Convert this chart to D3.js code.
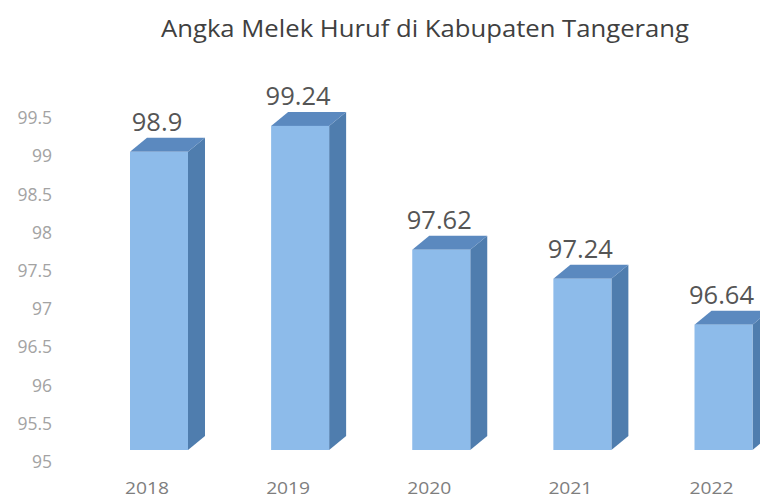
<!DOCTYPE html>
<html><head><meta charset="utf-8">
<script src="https://cdn.jsdelivr.net/npm/d3@7"></script>
<style>body{margin:0;background:#fff}svg{display:block}</style>
</head><body>
<svg id="c" width="760" height="501"></svg>
<script>
const years = ["2018","2019","2020","2021","2022"];
const values = [98.9, 99.24, 97.62, 97.24, 96.64];
const yTicks = [95, 95.5, 96, 96.5, 97, 97.5, 98, 98.5, 99, 99.5];
const title = "Angka Melek Huruf di Kabupaten Tangerang";

const svg = d3.select("#c");
const FF = "Open Sans, sans-serif";
const x = d3.scalePoint().domain(years).range([159, 723.5]);
const y = d3.scaleLinear().domain([95, 99.5]).range([450, 106]);
const yAx = d3.scaleLinear().domain([95, 99.5]).range([462, 118]);
const bw = 58, dx = 17, dy = 14;

svg.append("text").attr("x", 425).attr("y", 37).attr("text-anchor", "middle")
  .attr("font-family", FF).attr("font-size", 23.5).attr("fill", "#404040")
  .attr("textLength", 528).attr("lengthAdjust", "spacingAndGlyphs")
  .text(title);

const ax = svg.append("g").attr("transform", "translate(58,0)")
  .call(d3.axisLeft(yAx).tickValues(yTicks).tickSize(0).tickPadding(6).tickFormat(d => String(d)));
ax.select(".domain").remove();
ax.attr("font-family", FF).attr("font-size", 17.5);
ax.selectAll("text").attr("font-family", FF).attr("font-size", 17.5).attr("fill", "#a3a3a3");

svg.append("g").selectAll("text").data(years).join("text")
  .attr("x", d => x(d) - 12).attr("y", 494).attr("text-anchor", "middle")
  .attr("font-family", FF).attr("font-size", 17).attr("fill", "#7e7e7e")
  .attr("textLength", 44).attr("lengthAdjust", "spacingAndGlyphs")
  .text(d => d);

const data = years.map((k, i) => ({k, v: values[i]}));
const g = svg.append("g").selectAll("g").data(data).join("g");
g.each(function(d) {
  const s = d3.select(this);
  const xl = x(d.k) - bw / 2, xr = x(d.k) + bw / 2, yt = y(d.v), yb = y(95);
  s.append("polygon").attr("points", [[xr, yt], [xr + dx, yt - dy], [xr + dx, yb - dy], [xr, yb]].join(" "))
    .attr("fill", "#4f7dae");
  s.append("polygon").attr("points", [[xl, yt], [xl + dx, yt - dy], [xr + dx, yt - dy], [xr, yt]].join(" "))
    .attr("fill", "#5b89bf");
  s.append("rect").attr("x", xl).attr("y", yt).attr("width", bw).attr("height", yb - yt)
    .attr("fill", "#8dbbea");
  s.append("text").attr("x", x(d.k) - 2).attr("y", yt - dy - 7).attr("text-anchor", "middle")
    .attr("font-family", FF).attr("font-size", 25.5).attr("fill", "#555")
    .text(d.v);
});
</script>
</body></html>
